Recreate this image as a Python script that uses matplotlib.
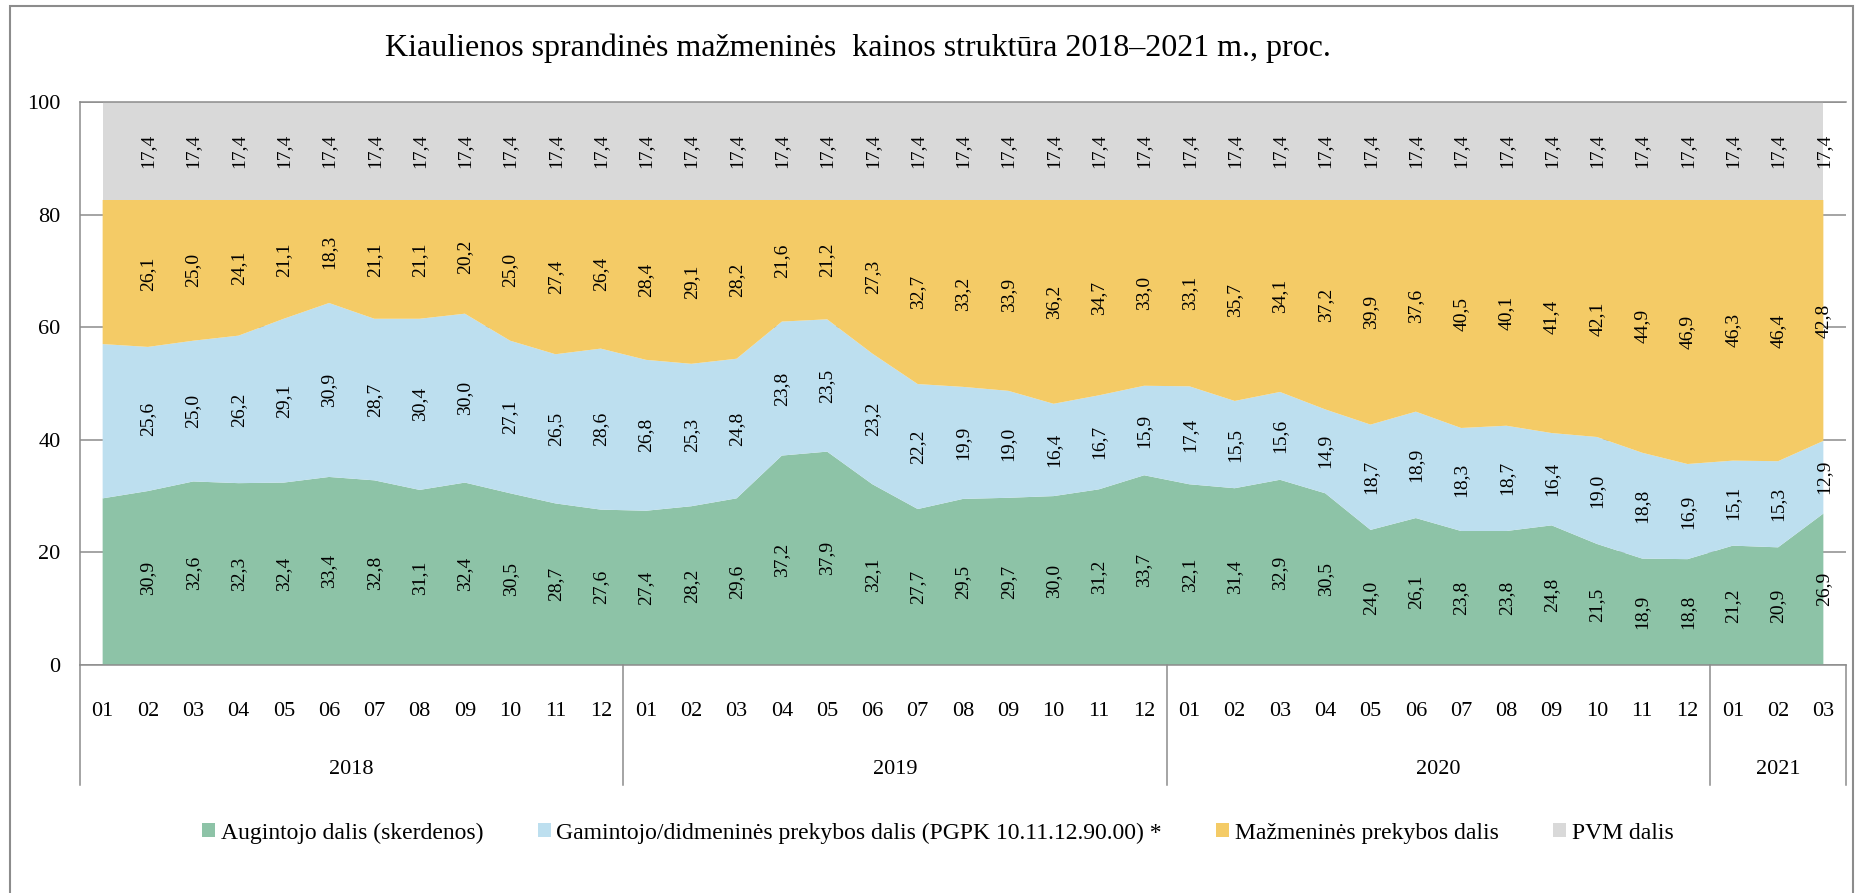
import matplotlib

matplotlib.use("Agg")
import matplotlib.pyplot as plt
from matplotlib.patches import Patch, Rectangle
import numpy as np

# monthly shares of the retail price, %
MONTHS = ["01", "02", "03", "04", "05", "06", "07", "08", "09", "10", "11", "12"] * 3 + ["01", "02", "03"]
YEARS = ["2018", "2019", "2020", "2021"]
YEAR_LEN = [12, 12, 12, 3]

farmer = [29.6, 30.9, 32.6, 32.3, 32.4, 33.4, 32.8, 31.1, 32.4, 30.5, 28.7, 27.6,
          27.4, 28.2, 29.6, 37.2, 37.9, 32.1, 27.7, 29.5, 29.7, 30.0, 31.2, 33.7,
          32.1, 31.4, 32.9, 30.5, 24.0, 26.1, 23.8, 23.8, 24.8, 21.5, 18.9, 18.8,
          21.2, 20.9, 26.9]
producer = [27.4, 25.6, 25.0, 26.2, 29.1, 30.9, 28.7, 30.4, 30.0, 27.1, 26.5, 28.6,
            26.8, 25.3, 24.8, 23.8, 23.5, 23.2, 22.2, 19.9, 19.0, 16.4, 16.7, 15.9,
            17.4, 15.5, 15.6, 14.9, 18.7, 18.9, 18.3, 18.7, 16.4, 19.0, 18.8, 16.9,
            15.1, 15.3, 12.9]
retail = [25.6, 26.1, 25.0, 24.1, 21.1, 18.3, 21.1, 21.1, 20.2, 25.0, 27.4, 26.4,
          28.4, 29.1, 28.2, 21.6, 21.2, 27.3, 32.7, 33.2, 33.9, 36.2, 34.7, 33.0,
          33.1, 35.7, 34.1, 37.2, 39.9, 37.6, 40.5, 40.1, 41.4, 42.1, 44.9, 46.9,
          46.3, 46.4, 42.8]
vat = [17.4] * 39

NAMES = ["Augintojo dalis (skerdenos)",
         "Gamintojo/didmeninės prekybos dalis (PGPK 10.11.12.90.00) *",
         "Mažmeninės prekybos dalis",
         "PVM dalis"]
COLORS = ["#8dc3a7", "#bddfef", "#f4cb66", "#d9d9d9"]
LINE = "#8c8c8c"

plt.rcParams["font.family"] = ["Liberation Serif", "DejaVu Serif"]

fig = plt.figure(figsize=(18.58, 8.93), dpi=100)
ax = fig.add_axes([80 / 1858, 1 - 665 / 893, 1766 / 1858, 563 / 893])

x = np.arange(len(farmer))
series = [farmer, producer, retail, vat]
ax.stackplot(x, *series, colors=COLORS, zorder=2)

# value labels (first month has none in the source)
base = np.zeros(len(x))
for vals in series:
    vals = np.asarray(vals)
    for i in range(1, len(x)):
        ax.text(x[i], base[i] + vals[i] / 2, f"{vals[i]:.1f}".replace(".", ","),
                rotation=90, ha="center", va="center", fontsize=14, zorder=3)
    base = base + vals

ax.set_xlim(-0.5, len(x) - 0.5)
ax.set_ylim(0, 100)
ax.set_yticks(range(0, 101, 20))
ax.yaxis.grid(True, color=LINE, lw=1.1)
ax.set_axisbelow(True)
ax.tick_params(axis="y", length=0, pad=14, labelsize=16)
ax.set_xticks(x)
ax.set_xticklabels(MONTHS)
ax.tick_params(axis="x", length=0, pad=27, labelsize=16)
for s in ("left", "bottom", "top"):
    ax.spines[s].set_color(LINE)
    ax.spines[s].set_linewidth(1.1)
ax.spines["right"].set_visible(False)

# year grouping under the month labels
trans = ax.get_xaxis_transform()
start = 0
edges = [-0.5]
for year, n in zip(YEARS, YEAR_LEN):
    ax.text(start + (n - 1) / 2, -0.186, year, ha="center", va="center", fontsize=16, transform=trans)
    start += n
    edges.append(start - 0.5)
for e in edges:
    ax.plot([e, e], [0, -0.214], transform=trans, color=LINE, lw=1.1, clip_on=False)

fig.text(858 / 1858, 1 - 48 / 893, "Kiaulienos sprandinės mažmeninės  kainos struktūra 2018–2021 m., proc.",
         ha="center", va="center", fontsize=23)

handles = [Patch(facecolor=c, edgecolor="none", label=n) for c, n in zip(COLORS, NAMES)]
fig.legend(handles=handles, loc="center", bbox_to_anchor=(938 / 1858, 1 - 833 / 893), ncol=4,
           frameon=False, fontsize=17, handlelength=0.55, handleheight=0.55,
           handletextpad=0.25, columnspacing=2.3)

fig.patches.append(Rectangle((10 / 1858, -0.01), 1843 / 1858, 1.01 - 6 / 893, transform=fig.transFigure,
                             fill=False, edgecolor=LINE, lw=1.5))

fig.savefig("out.png", dpi=100)
